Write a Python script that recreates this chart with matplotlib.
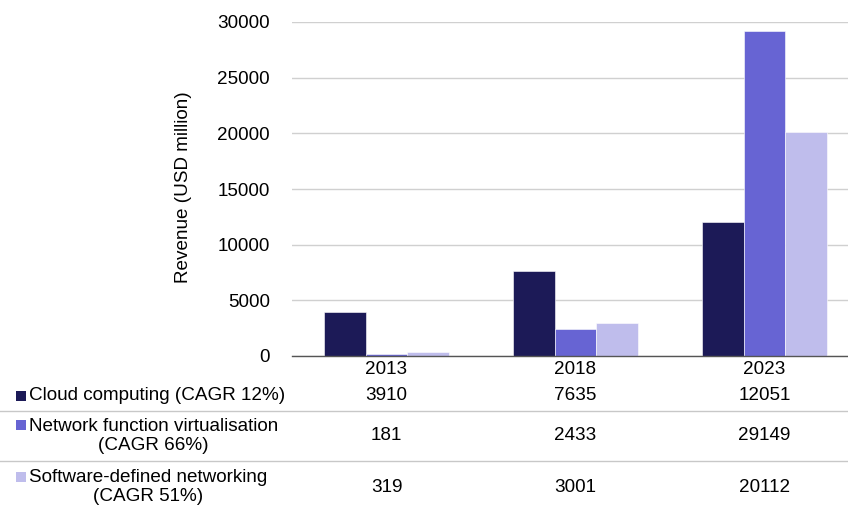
import matplotlib
matplotlib.use("Agg")
import matplotlib.pyplot as plt
import matplotlib.transforms as mtransforms
from matplotlib.patches import Rectangle
from matplotlib.lines import Line2D
import numpy as np

plt.rcParams["font.family"] = ["Liberation Sans", "DejaVu Sans"]

# ---------------------------------------------------------------------------
# Data
# ---------------------------------------------------------------------------
years = ["2013", "2018", "2023"]
series_labels = [
    "Cloud computing (CAGR 12%)",
    "Network function virtualisation\n(CAGR 66%)",
    "Software-defined networking\n(CAGR 51%)",
]
cloud = [3910, 7635, 12051]
nfv = [181, 2433, 29149]
sdn = [319, 3001, 20112]
colors = ["#1c1a57", "#6764d3", "#bfbdec"]

series = [cloud, nfv, sdn]

W, H = 848, 509
FS = 13.6
fig = plt.figure(figsize=(W / 100, H / 100), dpi=100)

# axes spans 292..859 px horizontally (right edge trimmed by the canvas)
ax = fig.add_axes([292 / W, (H - 356) / H, (859 - 292) / W, 334 / H])

x = np.arange(len(years))
bw = 0.222
for i, (vals, col) in enumerate(zip(series, colors)):
    ax.bar(x + (i - 1) * bw, vals, width=bw, color=col,
           edgecolor="#ffffff", linewidth=0.4, zorder=3)

ax.set_xlim(-0.5, 2.5)
ax.set_ylim(0, 30000)
ax.set_yticks(range(0, 30001, 5000))
ax.set_xticks([])
ax.tick_params(axis="y", length=0, labelsize=FS, pad=16, colors="#000000")
ax.grid(axis="y", color="#d0d0d0", linewidth=1.0, zorder=0)
for s in ["top", "right", "left"]:
    ax.spines[s].set_visible(False)
ax.spines["bottom"].set_color("#555555")
ax.spines["bottom"].set_linewidth(1.0)
ax.spines["bottom"].set_zorder(4)

fig.text(183 / W, 1 - 187 / H, "Revenue (USD million)", rotation=90,
         ha="center", va="center", fontsize=FS)

# ---------------------------------------------------------------------------
# Data table underneath
# ---------------------------------------------------------------------------
blend = mtransforms.blended_transform_factory(ax.transData, fig.transFigure)

def fy(py):
    return 1 - py / H

for xi, yr in zip(x, years):
    ax.text(xi, fy(369), yr, transform=blend, ha="center", va="center",
            fontsize=FS, clip_on=False)

row_y = [396, 436, 487]
sq_y = [396, 425, 477]
for r, (vals, lab, col) in enumerate(zip(series, series_labels, colors)):
    for xi, v in zip(x, vals):
        ax.text(xi, fy(row_y[r]), f"{v}", transform=blend, ha="center",
                va="center", fontsize=FS, clip_on=False)
    fig.text(29 / W, fy(row_y[r]), lab, ha="left", va="center",
             fontsize=FS, multialignment="center", linespacing=1.22)
    fig.patches.append(Rectangle((16 / W, fy(sq_y[r] + 5)),
                                 10 / W, 10 / H, transform=fig.transFigure,
                                 facecolor=col, edgecolor="none"))

for ly in [411, 461]:
    fig.lines.append(Line2D([0, 1], [fy(ly), fy(ly)], transform=fig.transFigure,
                            color="#c8c8c8", linewidth=1.0))

fig.savefig("out.png", dpi=100)
